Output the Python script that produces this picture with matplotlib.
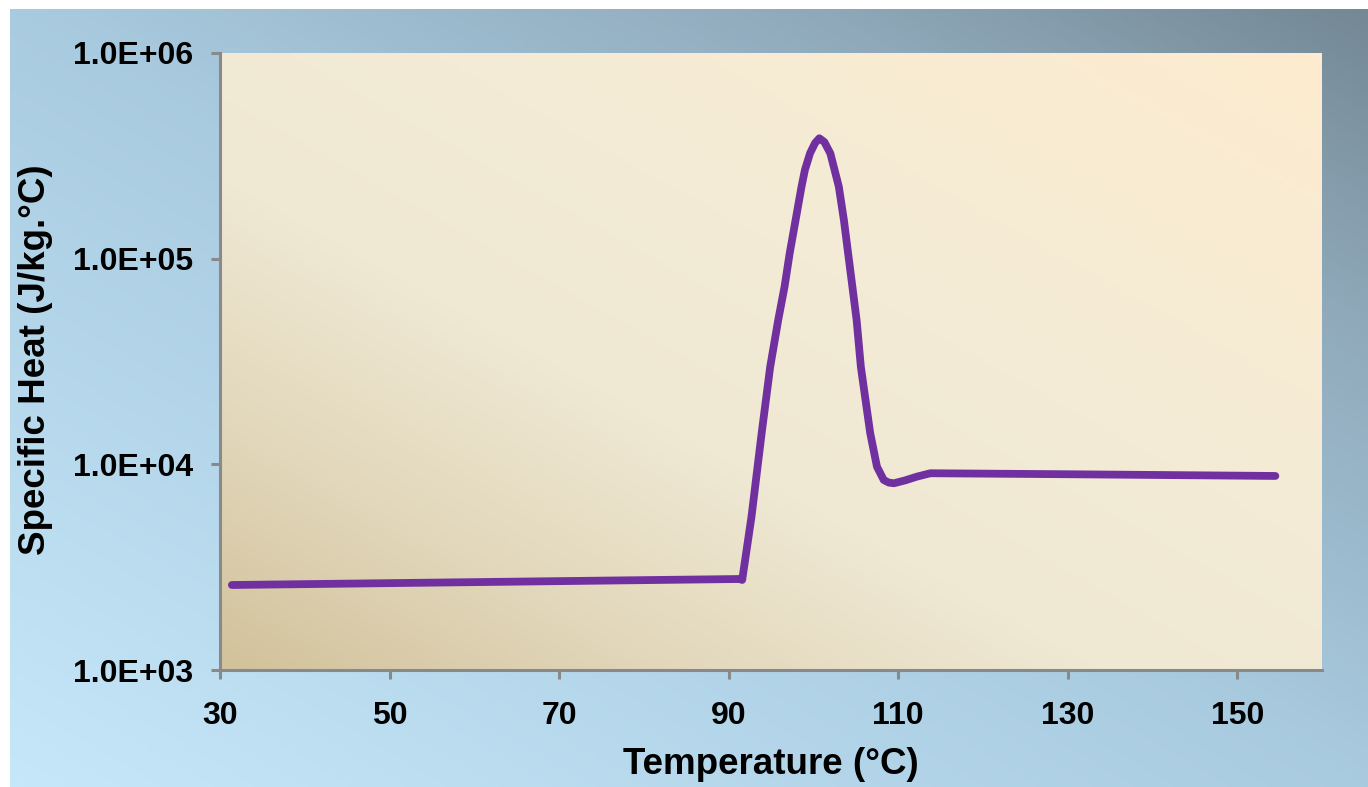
import numpy as np
import matplotlib
matplotlib.use("Agg")
import matplotlib.pyplot as plt
from matplotlib.colors import LinearSegmentedColormap
from matplotlib.ticker import FixedLocator, FuncFormatter, NullLocator

# ---- data ----
temperature = [31.4, 91.3, 91.6, 92.7, 93.9, 94.9, 95.85, 96.6, 97.2, 97.9, 98.6, 99.0, 99.6,
               100.2, 100.7, 101.3, 102.0, 102.5, 103.0, 103.6, 104.1, 104.6, 105.1, 105.6,
               106.7, 107.5, 108.3, 108.9, 109.5, 110.8, 112.2, 113.8, 130.0, 154.5]
specific_heat = [2590, 2770, 2740, 5570, 14200, 29700, 50300, 73100, 106000, 154000, 224000,
                 270000, 325000, 365000, 385000, 369000, 325000, 270000, 224000, 154000,
                 106000, 73100, 50300, 29800, 14200, 9740, 8390, 8150, 8090, 8350, 8710,
                 9050, 8950, 8780]
x_ticks = [30, 50, 70, 90, 110, 130, 150]
y_ticks = [1e3, 1e4, 1e5, 1e6]

W, H = 1368, 787
fig = plt.figure(figsize=(W / 100, H / 100), dpi=100, facecolor="white")
plt.rcParams["font.family"] = ["Liberation Sans", "DejaVu Sans"]

# ---- figure background gradient ----
bg = fig.add_axes([10 / W, 0, 1 - 10 / W, 1 - 9 / H], zorder=0)
bg.set_axis_off()
nx, ny = 300, 200
gx, gy = np.meshgrid(np.linspace(0, 1, nx), np.linspace(0, 1, ny))
t = (gx + gy) / 2  # 0 bottom-left, 1 top-right
cmap_bg = LinearSegmentedColormap.from_list(
    "bg", [(0, "#C6E7F9"), (0.5, "#A9CBE0"), (0.8, "#8FA9BA"), (1, "#748895")])
bg.imshow(t, cmap=cmap_bg, origin="lower", extent=[0, 1, 0, 1], aspect="auto", vmin=0, vmax=1)
bg.set_xlim(0, 1)
bg.set_ylim(0, 1)

# ---- main axes ----
L, R, T, B = 220, 1322, 53, 670
ax = fig.add_axes([L / W, (H - B) / H, (R - L) / W, (B - T) / H], zorder=1)
ax.patch.set_visible(False)
cmap_pa = LinearSegmentedColormap.from_list(
    "pa", [(0, "#D2C29B"), (0.2, "#E2D7BB"), (0.4, "#EFE8D3"), (0.6, "#F3EBD6"), (1, "#FDECCF")])
ax.imshow(t, cmap=cmap_pa, origin="lower", extent=[0, 1, 0, 1], aspect="auto",
          transform=ax.transAxes, vmin=0, vmax=1, zorder=0)

ax.plot(temperature, specific_heat, color="#7030A0", lw=5.6, solid_capstyle="round",
        solid_joinstyle="round", zorder=3)

ax.set_yscale("log")
ax.set_xlim(30, 160)
ax.set_ylim(1e3, 1e6)
ax.xaxis.set_major_locator(FixedLocator(x_ticks))
ax.yaxis.set_major_locator(FixedLocator(y_ticks))
ax.yaxis.set_minor_locator(NullLocator())
ax.yaxis.set_major_formatter(FuncFormatter(lambda v, p: "1.0E+%02d" % int(round(np.log10(v)))))

for s in ["top", "right"]:
    ax.spines[s].set_visible(False)
for s in ["left", "bottom"]:
    ax.spines[s].set_color("#898989")
    ax.spines[s].set_linewidth(2.2)
    ax.spines[s].set_zorder(4)

ax.tick_params(axis="both", which="major", direction="out", length=6.5, width=2.2,
               color="#898989", labelsize=23, labelcolor="black")
ax.tick_params(axis="y", pad=13)
ax.tick_params(axis="x", pad=16)
for lab in ax.get_xticklabels() + ax.get_yticklabels():
    lab.set_fontweight("bold")

fig.text(771 / W, 1 - 764 / H, "Temperature (°C)", ha="center", va="center",
         fontsize=26.5, fontweight="bold")
fig.text(36 / W, 1 - 360 / H, "Specific Heat (J/kg.°C)", ha="center", va="center",
         rotation=90, fontsize=26.5, fontweight="bold")

fig.savefig("out.png", dpi=100, facecolor="white")
